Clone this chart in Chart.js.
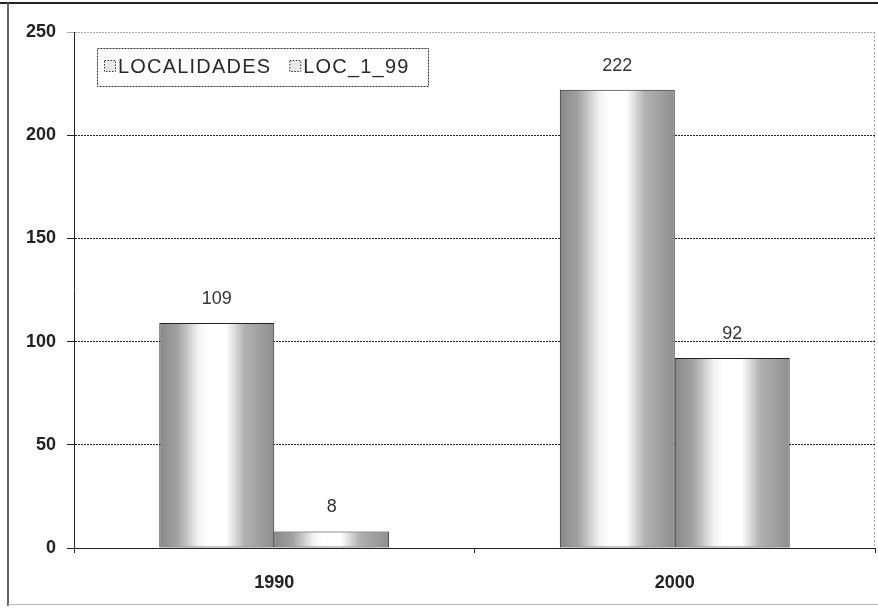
<!DOCTYPE html>
<html>
<head>
<meta charset="utf-8">
<script src="https://cdn.jsdelivr.net/npm/chart.js@4/dist/chart.umd.min.js"></script>
<style>
  html, body { margin: 0; padding: 0; background: #fff; }
  #wrap { width: 878px; height: 609px; position: relative; }
</style>
</head>
<body>
<div id="wrap"><canvas id="c" width="878" height="609"></canvas></div>
<script>
const categories = ["1990", "2000"];
const seriesNames = ["LOCALIDADES", "LOC_1_99"];
const localidades = [109, 222];
const loc199 = [8, 92];
const yTicks = [0, 50, 100, 150, 200, 250];

const FONT = "'Liberation Sans', Arial, sans-serif";

const framePlugin = {
  id: 'frame',
  beforeDraw(chart) {
    const ctx = chart.ctx;
    ctx.save();
    ctx.fillStyle = '#fff';
    ctx.fillRect(0, 0, chart.width, chart.height);
    ctx.strokeStyle = '#222';
    ctx.lineWidth = 2;
    ctx.beginPath(); ctx.moveTo(0, 3); ctx.lineTo(chart.width, 3); ctx.stroke();
    ctx.strokeStyle = '#666';
    ctx.lineWidth = 2;
    ctx.beginPath(); ctx.moveTo(8, 3); ctx.lineTo(8, 606); ctx.stroke();
    ctx.strokeStyle = '#bbb';
    ctx.lineWidth = 1;
    ctx.beginPath(); ctx.moveTo(8, 604.5); ctx.lineTo(chart.width, 604.5); ctx.stroke();
    const a = chart.chartArea;
    ctx.setLineDash([2, 2]);
    ctx.strokeStyle = '#aaa';
    ctx.beginPath(); ctx.moveTo(a.right - 0.5, a.top); ctx.lineTo(a.right - 0.5, a.bottom); ctx.stroke();
    ctx.restore();
  }
};

const barShadePlugin = {
  id: 'barShade',
  beforeDatasetsDraw(chart) {
    const ctx = chart.ctx;
    chart.data.datasets.forEach((ds, i) => {
      const meta = chart.getDatasetMeta(i);
      meta.data.forEach(el => {
        const left = el.x - el.width / 2;
        const g = ctx.createLinearGradient(left, 0, left + el.width, 0);
        g.addColorStop(0, '#888888');
        g.addColorStop(0.16, '#a2a2a2');
        g.addColorStop(0.34, '#f2f2f2');
        g.addColorStop(0.42, '#ffffff');
        g.addColorStop(0.58, '#ffffff');
        g.addColorStop(0.74, '#b2b2b2');
        g.addColorStop(1, '#8e8e8e');
        el.options = Object.assign({}, el.options, { backgroundColor: g });
      });
    });
  }
};

const labelPlugin = {
  id: 'valueLabels',
  afterDatasetsDraw(chart) {
    const ctx = chart.ctx;
    ctx.save();
    ctx.fillStyle = '#333';
    ctx.font = '18px ' + FONT;
    ctx.textAlign = 'center';
    ctx.textBaseline = 'middle';
    chart.data.datasets.forEach((ds, i) => {
      const meta = chart.getDatasetMeta(i);
      meta.data.forEach((el, j) => {
        ctx.fillText(String(ds.data[j]), el.x, el.y - 24);
      });
    });
    ctx.restore();
  }
};

const legendPlugin = {
  id: 'boxLegend',
  afterDraw(chart) {
    const ctx = chart.ctx;
    ctx.save();
    ctx.fillStyle = '#fff';
    ctx.fillRect(97, 48, 331, 38);
    ctx.setLineDash([2, 1]);
    ctx.strokeStyle = '#333';
    ctx.lineWidth = 1;
    ctx.strokeRect(97.5, 48.5, 331, 38);
    ctx.font = '20px ' + FONT;
    ctx.letterSpacing = '1.2px';
    ctx.textBaseline = 'middle';
    let x = 104;
    const y = 67;
    seriesNames.forEach((name, i) => {
      ctx.setLineDash([1.5, 1.5]);
      ctx.strokeStyle = '#333';
      ctx.fillStyle = '#e8e8e8';
      ctx.fillRect(x + 0.5, y - 6.5, 11, 11);
      ctx.strokeRect(x + 0.5, y - 6.5, 11, 11);
      ctx.setLineDash([]);
      ctx.fillStyle = '#2a2a2a';
      ctx.fillText(name, x + 14, y);
      x += 14 + ctx.measureText(name).width + 18;
    });
    ctx.restore();
  }
};

new Chart(document.getElementById('c'), {
  type: 'bar',
  data: {
    labels: categories,
    datasets: [
      { label: seriesNames[0], data: localidades, borderColor: '#222', borderWidth: 1, backgroundColor: '#ccc', borderSkipped: false },
      { label: seriesNames[1], data: loc199, borderColor: '#222', borderWidth: 1, backgroundColor: '#ccc', borderSkipped: false }
    ]
  },
  options: {
    responsive: false,
    animation: false,
    devicePixelRatio: 1,
    layout: { padding: { left: 11, top: 32, right: 3, bottom: 0 } },
    plugins: { legend: { display: false }, tooltip: { enabled: false }, title: { display: false } },
    datasets: { bar: { categoryPercentage: 0.574, barPercentage: 1.0 } },
    scales: {
      x: {
        afterFit(s) { s.height = 61; },
        grid: { display: true, drawOnChartArea: false, offset: true, color: '#333', tickLength: 5 },
        border: { display: true, color: '#222', width: 1, dash: [2, 1] },
        ticks: { color: '#222', font: { family: FONT, size: 18, weight: 'bold' }, padding: 19 }
      },
      y: {
        min: 0, max: 250,
        afterFit(s) { s.width = 63; },
        afterBuildTicks(s) { s.ticks = yTicks.map(v => ({ value: v })); },
        grid: {
          color: c => (c.tick && c.tick.value === 250) ? '#aaa' : '#222',
          tickLength: 7, lineWidth: 1
        },
        border: { display: true, color: '#222', width: 1, dash: [2, 1] },
        ticks: { color: '#222', font: { family: FONT, size: 18, weight: 'bold' }, padding: 11 }
      }
    }
  },
  plugins: [framePlugin, barShadePlugin, labelPlugin, legendPlugin]
});
</script>
</body>
</html>
